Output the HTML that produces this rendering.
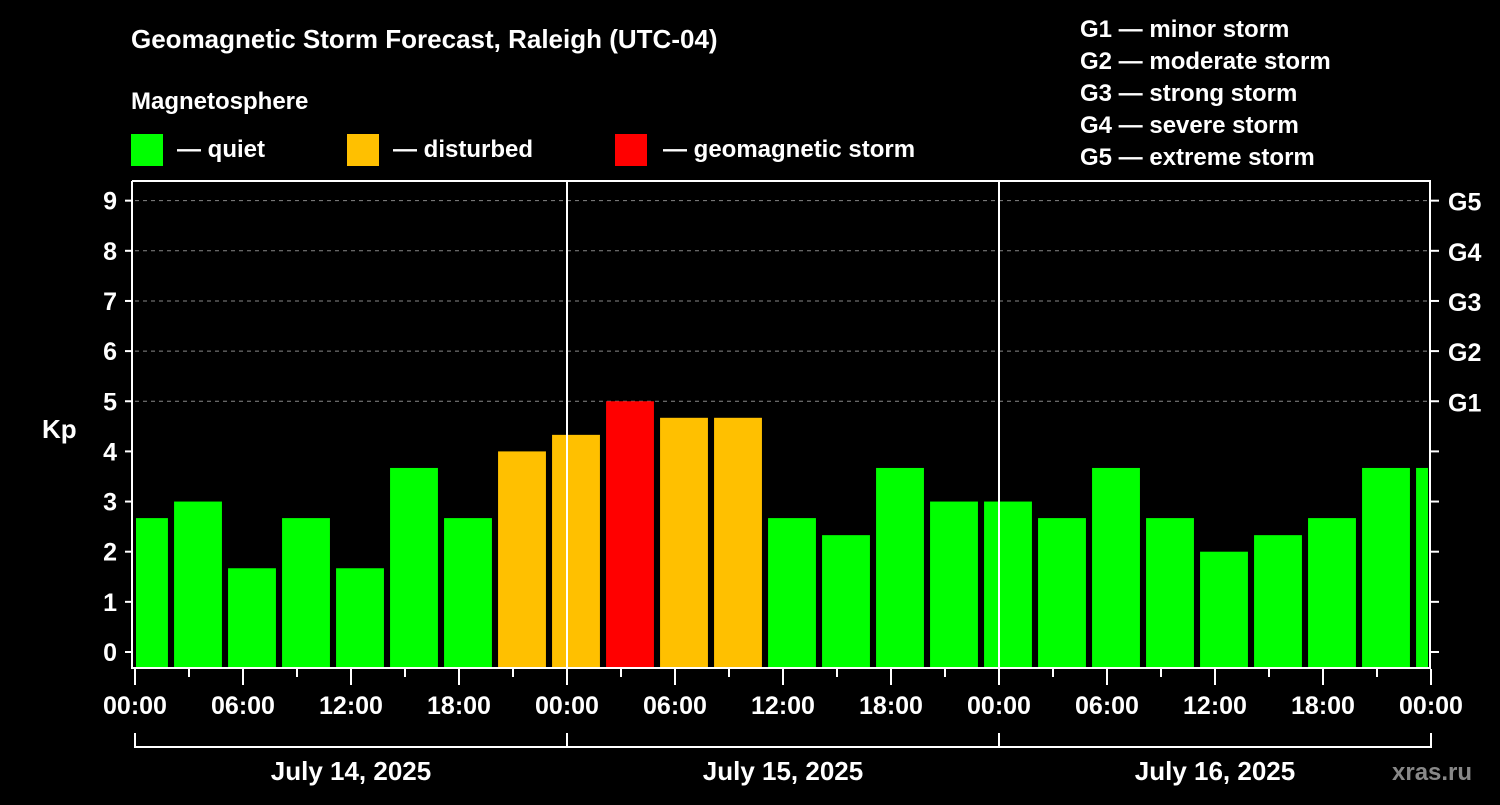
<!DOCTYPE html>
<html><head><meta charset="utf-8"><style>
body{margin:0;background:#000;}
svg text{font-family:"Liberation Sans",Arial,sans-serif;font-weight:bold;fill:#fff;}
</style></head><body>
<svg id="chart" width="1500" height="800" xmlns="http://www.w3.org/2000/svg">
<rect width="1500" height="800" fill="#000"/>
<text x="131" y="48" font-size="26">Geomagnetic Storm Forecast, Raleigh (UTC-04)</text>
<text x="131" y="109" font-size="24">Magnetosphere</text>
<g><rect x="131" y="134" width="32" height="32" fill="#00ff00"/><text x="177" y="157" font-size="24">— quiet</text></g>
<g><rect x="347" y="134" width="32" height="32" fill="#ffc000"/><text x="393" y="157" font-size="24">— disturbed</text></g>
<g><rect x="615" y="134" width="32" height="32" fill="#ff0000"/><text x="663" y="157" font-size="24">— geomagnetic storm</text></g>
<g font-size="24">
<text x="1080" y="37">G1 — minor storm</text>
<text x="1080" y="69">G2 — moderate storm</text>
<text x="1080" y="101">G3 — strong storm</text>
<text x="1080" y="133">G4 — severe storm</text>
<text x="1080" y="165">G5 — extreme storm</text>
</g>
<g id="grid"></g><g id="bars"></g><g id="axes"></g>
<text x="42" y="438" font-size="26">Kp</text>
<text x="1392" y="780" font-size="24" fill="#888" style="fill:#888">xras.ru</text>
</svg>
<script>
const kpValues=[2.67,3,1.67,2.67,1.67,3.67,2.67,4,4.33,5,4.67,4.67,2.67,2.33,3.67,3,3,2.67,3.67,2.67,2,2.33,2.67,3.67,3.67];
const yTicks=[0,1,2,3,4,5,6,7,8,9];
const gLabels=["G1","G2","G3","G4","G5"];
const xTickLabels=["00:00","06:00","12:00","18:00","00:00","06:00","12:00","18:00","00:00","06:00","12:00","18:00","00:00"];
const dayLabels=["July 14, 2025","July 15, 2025","July 16, 2025"];
const NS="http://www.w3.org/2000/svg";
const X0=135,X1=1430,PX_H=18,Y0=652,PX_K=50.15,PTOP=181,PBOT=668;
const x=h=>X0+h*PX_H, y=k=>Y0-k*PX_K;
function mk(tag,attrs,parent){const e=document.createElementNS(NS,tag);for(const k in attrs)e.setAttribute(k,attrs[k]);document.getElementById(parent).appendChild(e);return e;}
// grid for G levels
for(let k=5;k<=9;k++){const l=mk('line',{x1:X0,x2:X1,y1:y(k),y2:y(k),stroke:'#888','stroke-dasharray':'4,4','stroke-width':1},'grid');

}
// bars
kpValues.forEach((v,i)=>{let l=x(3*i-0.83),r=x(3*i+1.83);l=Math.max(l,X0+1);r=Math.min(r,X1-2);
const c=v>=5?'#ff0000':(v>=4?'#ffc000':'#00ff00');
const b=mk('rect',{x:l,y:y(v),width:r-l,height:PBOT-y(v),fill:c},'bars');

});
// axes
const ax=mk('path',{d:`M${X0-3},${PTOP} V${PBOT} H${X1} V${PTOP} H${X0-3}`,stroke:'#fff','stroke-width':2,fill:'none'},'axes');


[1,2].forEach(d=>{const l=mk('line',{x1:x(24*d),x2:x(24*d),y1:PTOP,y2:PBOT,stroke:'#fff','stroke-width':2},'axes');

});
yTicks.forEach(k=>{mk('line',{x1:X0-10,x2:X0-3,y1:y(k),y2:y(k),stroke:'#fff','stroke-width':2},'axes');
mk('line',{x1:X1,x2:X1+9,y1:y(k),y2:y(k),stroke:'#fff','stroke-width':2},'axes');
const t=mk('text',{x:X0-18,y:y(k)+9,'font-size':25,'text-anchor':'end'},'axes');t.textContent=k;

});
gLabels.forEach((g,i)=>{const t=mk('text',{x:X1+18,y:y(5+i)+10,'font-size':25},'axes');t.textContent=g;

});
for(let h=0;h<=72;h+=3){const maj=h%6===0;mk('line',{x1:x(h),x2:x(h),y1:PBOT+1,y2:PBOT+(maj?17:9),stroke:'#fff','stroke-width':2},'axes');}
xTickLabels.forEach((s,i)=>{const t=mk('text',{x:x(6*i),y:714,'font-size':25,'text-anchor':'middle'},'axes');t.textContent=s;

});
mk('line',{x1:X0,x2:X1,y1:747,y2:747,stroke:'#fff','stroke-width':2},'axes');
for(let d=0;d<=3;d++)mk('line',{x1:x(24*d),x2:x(24*d),y1:733,y2:748,stroke:'#fff','stroke-width':2},'axes');
dayLabels.forEach((s,i)=>{const t=mk('text',{x:x(24*i+12),y:780,'font-size':26,'text-anchor':'middle'},'axes');t.textContent=s;

});
</script>
</body></html>
